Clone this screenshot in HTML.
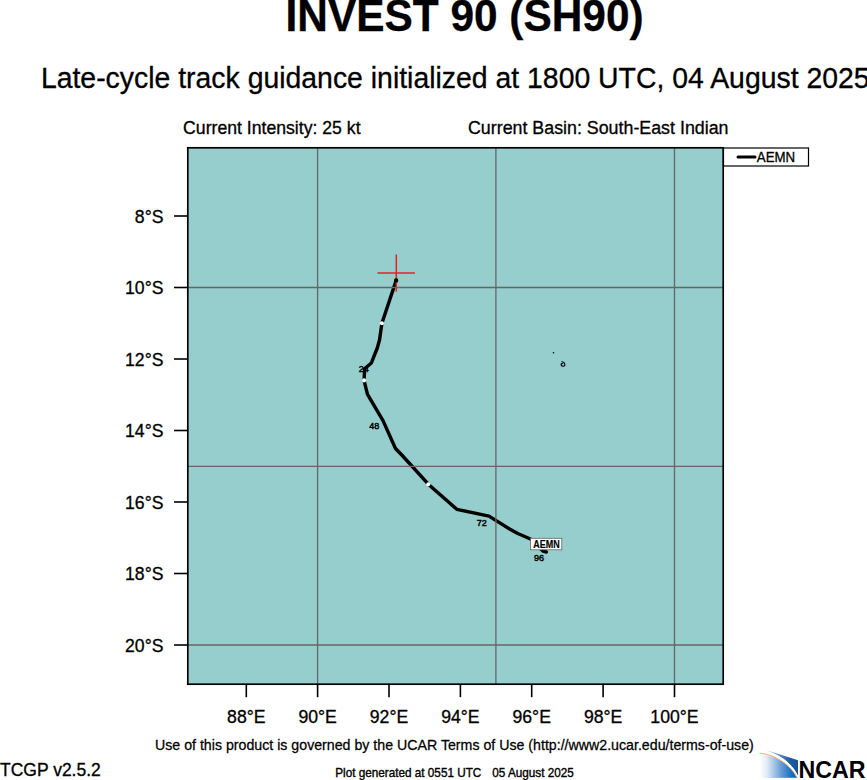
<!DOCTYPE html>
<html>
<head>
<meta charset="utf-8">
<style>
html,body{margin:0;padding:0;background:#fff;width:867px;height:780px;overflow:hidden;}
svg{display:block;}
text{font-family:"Liberation Sans",sans-serif;fill:#000;}
</style>
</head>
<body>
<svg width="867" height="780" viewBox="0 0 867 780">
<defs>
<linearGradient id="gA" x1="0" y1="0" x2="1" y2="0">
<stop offset="0" stop-color="#ffffff"/>
<stop offset="0.2" stop-color="#e0eaf6"/>
<stop offset="0.6" stop-color="#5f97d3"/>
<stop offset="0.85" stop-color="#1470c0"/>
<stop offset="1" stop-color="#0a69bc"/>
</linearGradient>
<linearGradient id="gB" x1="0" y1="0" x2="1" y2="0">
<stop offset="0" stop-color="#e6edf6"/>
<stop offset="0.4" stop-color="#6a93c9"/>
<stop offset="0.75" stop-color="#215ca3"/>
<stop offset="1" stop-color="#13539c"/>
</linearGradient>
</defs>
<text transform="translate(285.50,31.20) scale(1,1.055)" font-size="42.40" font-weight="bold" text-anchor="start" stroke="#000" stroke-width="0.30">INVEST 90 (SH90)</text>
<text transform="translate(40.90,87.70) scale(1,1.055)" font-size="28.40" font-weight="normal" text-anchor="start" stroke="#000" stroke-width="0.30">Late-cycle track guidance initialized at 1800 UTC, 04 August 2025</text>
<text transform="translate(183.10,133.90) scale(1,1.070)" font-size="17.65" font-weight="normal" text-anchor="start" stroke="#000" stroke-width="0.30">Current Intensity: 25 kt</text>
<text transform="translate(468.00,133.90) scale(1,1.060)" font-size="17.82" font-weight="normal" text-anchor="start" stroke="#000" stroke-width="0.30">Current Basin: South-East Indian</text>
<rect x="188" y="148" width="535" height="536" fill="#96cdcd"/>
<circle cx="553.5" cy="352.7" r="0.8" fill="#000"/>
<path d="M561.5,361.5 C563.5,362 565,363.5 564.8,365.2 C564.3,366.6 561.8,366.6 561.2,365 C560.8,364 561.8,363.2 562.8,363.6" fill="none" stroke="#000" stroke-width="1.2"/>
<polyline points="396.3,280.1 381.9,323.3 379.5,340.0 377.3,348.0 374.3,355.5 371.4,363.0 364.6,368.8 364.1,380.4 365.2,385.1 367.5,394.4 383.0,420.6 395.5,448.5 401.8,455.0 428.3,484.2 456.8,509.3 489.0,516.1 510.0,529.2 517.8,533.5 531.0,539.2 543.2,551.2 546.3,552.0" fill="none" stroke="#000" stroke-width="3.4" stroke-linejoin="round" stroke-linecap="round"/>
<circle cx="381.9" cy="323.3" r="2.05" fill="#fff"/>
<circle cx="364.1" cy="380.4" r="2.05" fill="#fff"/>
<circle cx="428.3" cy="484.2" r="2.05" fill="#fff"/>
<g stroke="#e8202a" stroke-width="1.5">
<line x1="377.4" y1="273.1" x2="414.9" y2="273.1"/>
<line x1="396.3" y1="254.5" x2="396.3" y2="291.7"/>
</g>
<circle cx="396.1" cy="280.4" r="2.1" fill="#000"/>
<g stroke="#666" stroke-width="1.3">
<line x1="317.6" y1="148" x2="317.6" y2="684"/>
<line x1="495.9" y1="148" x2="495.9" y2="684"/>
<line x1="674.5" y1="148" x2="674.5" y2="684"/>
<line x1="188" y1="287.5" x2="723" y2="287.5"/>
<line x1="188" y1="466.4" x2="723" y2="466.4"/>
<line x1="188" y1="645" x2="723" y2="645"/>
</g>
<text transform="translate(358.70,371.50) scale(1,1.000)" font-size="9.00" font-weight="normal" text-anchor="start" stroke="#000" stroke-width="0.45">24</text>
<text transform="translate(369.30,428.50) scale(1,1.000)" font-size="9.00" font-weight="normal" text-anchor="start" stroke="#000" stroke-width="0.45">48</text>
<text transform="translate(476.80,525.80) scale(1,1.000)" font-size="9.00" font-weight="normal" text-anchor="start" stroke="#000" stroke-width="0.45">72</text>
<text transform="translate(533.90,561.00) scale(1,1.000)" font-size="9.00" font-weight="normal" text-anchor="start" stroke="#000" stroke-width="0.45">96</text>
<rect x="530.6" y="538.3" width="31.2" height="11.5" fill="#fff" stroke="#666" stroke-width="0.8"/>
<text transform="translate(533.20,547.60) scale(1,1.170)" font-size="9.00" font-weight="bold" text-anchor="start" stroke="#000" stroke-width="0.15">AEMN</text>
<rect x="187.8" y="147.8" width="535.4" height="536.4" fill="none" stroke="#000" stroke-width="1.7"/>
<rect x="723.5" y="148" width="85" height="18" fill="#fff" stroke="#000" stroke-width="1.2"/>
<line x1="738" y1="157" x2="755" y2="157" stroke="#000" stroke-width="3" stroke-linecap="round"/>
<text transform="translate(756.80,161.70) scale(1,1.070)" font-size="13.30" font-weight="normal" text-anchor="start" stroke="#000" stroke-width="0.30">AEMN</text>
<g stroke="#000" stroke-width="1.6">
<line x1="174" y1="216.0" x2="188" y2="216.0"/>
<line x1="174" y1="287.5" x2="188" y2="287.5"/>
<line x1="174" y1="359.0" x2="188" y2="359.0"/>
<line x1="174" y1="430.5" x2="188" y2="430.5"/>
<line x1="174" y1="502.0" x2="188" y2="502.0"/>
<line x1="174" y1="573.5" x2="188" y2="573.5"/>
<line x1="174" y1="645.0" x2="188" y2="645.0"/>
</g>
<text transform="translate(163.50,222.80) scale(1,1.060)" font-size="17.65" font-weight="normal" text-anchor="end" stroke="#000" stroke-width="0.30">8°S</text>
<text transform="translate(163.50,294.30) scale(1,1.060)" font-size="17.65" font-weight="normal" text-anchor="end" stroke="#000" stroke-width="0.30">10°S</text>
<text transform="translate(163.50,365.80) scale(1,1.060)" font-size="17.65" font-weight="normal" text-anchor="end" stroke="#000" stroke-width="0.30">12°S</text>
<text transform="translate(163.50,437.30) scale(1,1.060)" font-size="17.65" font-weight="normal" text-anchor="end" stroke="#000" stroke-width="0.30">14°S</text>
<text transform="translate(163.50,508.80) scale(1,1.060)" font-size="17.65" font-weight="normal" text-anchor="end" stroke="#000" stroke-width="0.30">16°S</text>
<text transform="translate(163.50,580.30) scale(1,1.060)" font-size="17.65" font-weight="normal" text-anchor="end" stroke="#000" stroke-width="0.30">18°S</text>
<text transform="translate(163.50,651.80) scale(1,1.060)" font-size="17.65" font-weight="normal" text-anchor="end" stroke="#000" stroke-width="0.30">20°S</text>
<g stroke="#000" stroke-width="1.6">
<line x1="246.3" y1="684" x2="246.3" y2="697.2"/>
<line x1="317.6" y1="684" x2="317.6" y2="697.2"/>
<line x1="389.0" y1="684" x2="389.0" y2="697.2"/>
<line x1="460.4" y1="684" x2="460.4" y2="697.2"/>
<line x1="531.7" y1="684" x2="531.7" y2="697.2"/>
<line x1="603.1" y1="684" x2="603.1" y2="697.2"/>
<line x1="674.5" y1="684" x2="674.5" y2="697.2"/>
</g>
<text transform="translate(246.30,722.70) scale(1,1.060)" font-size="17.65" font-weight="normal" text-anchor="middle" stroke="#000" stroke-width="0.30">88°E</text>
<text transform="translate(317.60,722.70) scale(1,1.060)" font-size="17.65" font-weight="normal" text-anchor="middle" stroke="#000" stroke-width="0.30">90°E</text>
<text transform="translate(389.00,722.70) scale(1,1.060)" font-size="17.65" font-weight="normal" text-anchor="middle" stroke="#000" stroke-width="0.30">92°E</text>
<text transform="translate(460.40,722.70) scale(1,1.060)" font-size="17.65" font-weight="normal" text-anchor="middle" stroke="#000" stroke-width="0.30">94°E</text>
<text transform="translate(531.70,722.70) scale(1,1.060)" font-size="17.65" font-weight="normal" text-anchor="middle" stroke="#000" stroke-width="0.30">96°E</text>
<text transform="translate(603.10,722.70) scale(1,1.060)" font-size="17.65" font-weight="normal" text-anchor="middle" stroke="#000" stroke-width="0.30">98°E</text>
<text transform="translate(674.50,722.70) scale(1,1.060)" font-size="17.65" font-weight="normal" text-anchor="middle" stroke="#000" stroke-width="0.30">100°E</text>
<text transform="translate(155.00,749.50) scale(1,1.040)" font-size="14.20" font-weight="normal" text-anchor="start" stroke="#000" stroke-width="0.25">Use of this product is governed by the UCAR Terms of Use (http://www2.ucar.edu/terms-of-use)</text>
<text transform="translate(0.00,775.80) scale(1,1.050)" font-size="17.50" font-weight="normal" text-anchor="start" stroke="#000" stroke-width="0.30">TCGP v2.5.2</text>
<text transform="translate(335.20,776.80) scale(1,1.050)" font-size="11.75" font-weight="normal" text-anchor="start" stroke="#000" stroke-width="0.35">Plot generated at 0551 UTC</text>
<text transform="translate(492.30,776.80) scale(1,1.050)" font-size="11.75" font-weight="normal" text-anchor="start" stroke="#000" stroke-width="0.35">05 August 2025</text>
<path d="M759.6,753.1 C775,754.5 790,764 797.3,777.8 L759.6,777.9 Z" fill="url(#gA)"/>
<path d="M763.7,749.3 L798,760.3 L798,776.5 C793,766.5 786,757 763.7,749.3 Z" fill="url(#gB)"/>
<path d="M762,751.2 C777,753 791,763 797.6,776.5" fill="none" stroke="#fff" stroke-width="1.6"/>
<path d="M759.6,753.1 C775,754.5 790,764 797.3,777.8" fill="none" stroke="#f7b67a" stroke-width="1.0"/>
<text transform="translate(798.60,778.00) scale(1,1.000)" font-size="23.50" font-weight="bold" text-anchor="start" textLength="67" lengthAdjust="spacingAndGlyphs">NCAR</text>
</svg>
</body>
</html>
